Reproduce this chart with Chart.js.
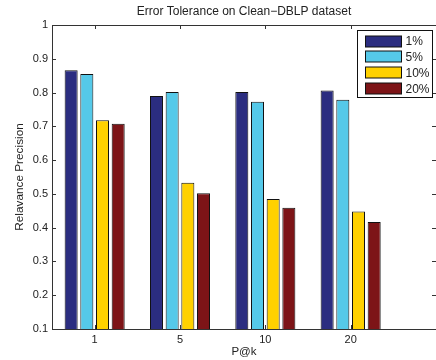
<!DOCTYPE html>
<html>
<head>
<meta charset="utf-8">
<script src="https://cdn.jsdelivr.net/npm/chart.js@4/dist/chart.umd.min.js"></script>
<style>
  html, body { margin: 0; padding: 0; background: #fff; }
  #wrap { width: 436px; height: 360px; position: relative; }
</style>
</head>
<body>
<div id="wrap"><canvas id="c" width="436" height="360"></canvas></div>
<script>
// ---- data ----
const categories = ['1', '5', '10', '20'];
const seriesNames = ['1%', '5%', '10%', '20%'];
const s1 = [0.866, 0.790, 0.802, 0.806];
const s5 = [0.855, 0.802, 0.773, 0.779];
const s10 = [0.718, 0.533, 0.485, 0.448];
const s20 = [0.708, 0.502, 0.459, 0.417];
const yTicks = [0.1, 0.2, 0.3, 0.4, 0.5, 0.6, 0.7, 0.8, 0.9, 1];
const colors = ['#2b2d80', '#55c9e9', '#ffd100', '#7d1417'];

const seriesValues = [s1, s5, s10, s20];
const FONT = "'Liberation Sans', Arial, sans-serif";
const TXT = '#222';

const datasets = seriesValues.map((vals, i) => ({
  label: seriesNames[i],
  data: vals.map((v, j) => ({ x: j + 1, y: v })),
  backgroundColor: colors[i],
  borderColor: '#111',
  borderWidth: 1,
  borderSkipped: false,
  categoryPercentage: 0.735,
  barPercentage: 0.83
}));

const frame = {
  id: 'frame',
  afterDraw(chart) {
    const ctx = chart.ctx;
    const a = chart.chartArea;
    const xs = chart.scales.x, ys = chart.scales.y;
    ctx.save();
    ctx.strokeStyle = '#333';
    ctx.lineWidth = 1;
    ctx.beginPath();
    ctx.rect(Math.round(a.left) + 0.5, Math.round(a.top) + 0.5,
             Math.round(a.right - a.left), Math.round(a.bottom - a.top));
    yTicks.forEach(v => {
      const y = Math.round(ys.getPixelForValue(v)) + 0.5;
      ctx.moveTo(a.left, y); ctx.lineTo(a.left + 4, y);
      ctx.moveTo(a.right, y); ctx.lineTo(a.right - 4, y);
    });
    categories.forEach((c, i) => {
      const x = Math.round(xs.getPixelForValue(i + 1)) + 0.5;
      ctx.moveTo(x, a.bottom); ctx.lineTo(x, a.bottom - 4);
      ctx.moveTo(x, a.top); ctx.lineTo(x, a.top + 4);
    });
    ctx.stroke();

    // legend box
    const bx = Math.round(a.right) - 78.5, by = Math.round(a.top) + 5.5;
    const bw = 75, bh = 67;
    ctx.fillStyle = '#fff';
    ctx.fillRect(bx, by, bw, bh);
    ctx.strokeStyle = '#111';
    ctx.strokeRect(bx, by, bw, bh);
    ctx.font = '12px ' + FONT;
    ctx.textBaseline = 'middle';
    ctx.textAlign = 'left';
    seriesNames.forEach((name, i) => {
      const cy = by + 10.5 + i * 15.8;
      ctx.fillStyle = colors[i];
      ctx.fillRect(bx + 8, Math.round(cy - 5.5), 36, 11);
      ctx.strokeStyle = '#111';
      ctx.strokeRect(bx + 8, Math.round(cy - 5.5), 36, 11);
      ctx.fillStyle = TXT;
      ctx.fillText(name, bx + 48, cy + 1);
    });
    ctx.restore();
  }
};

new Chart(document.getElementById('c'), {
  type: 'bar',
  data: { datasets },
  options: {
    responsive: false,
    animation: false,
    layout: { padding: { left: 0, right: -1, top: 0, bottom: 0 } },
    plugins: {
      legend: { display: false },
      tooltip: { enabled: false },
      title: {
        display: true,
        fullSize: false,
        text: 'Error Tolerance on Clean\u2212DBLP dataset',
        color: TXT,
        font: { family: FONT, size: 12, weight: 'normal' },
        padding: { top: 4, bottom: 6.6 }
      }
    },
    scales: {
      x: {
        type: 'linear',
        min: 0.5,
        max: 5,
        offset: false,
        grid: { display: false, drawTicks: false },
        border: { display: false },
        afterBuildTicks: s => { s.ticks = categories.map((c, i) => ({ value: i + 1 })); },
        afterFit: s => { s.height = 31; },
        ticks: {
          autoSkip: false,
          maxRotation: 0,
          padding: 4,
          color: TXT,
          font: { family: FONT, size: 11 },
          callback: v => categories[v - 1]
        },
        title: {
          display: true,
          text: 'P@k',
          color: TXT,
          padding: { top: 0, bottom: 1 },
          font: { family: FONT, size: 11.5 }
        }
      },
      y: {
        min: 0.1,
        max: 1,
        grid: { display: false, drawTicks: false },
        border: { display: false },
        afterBuildTicks: s => { s.ticks = yTicks.map(v => ({ value: v })); },
        afterFit: s => { s.width = 52; },
        ticks: {
          padding: 4,
          color: TXT,
          font: { family: FONT, size: 11 },
          callback: v => String(Math.round(v * 10) / 10)
        },
        title: {
          display: true,
          text: 'Relavance Precision',
          color: TXT,
          padding: { top: 13, bottom: 0 },
          font: { family: FONT, size: 11.8 }
        }
      }
    }
  },
  plugins: [frame]
});
</script>
</body>
</html>
